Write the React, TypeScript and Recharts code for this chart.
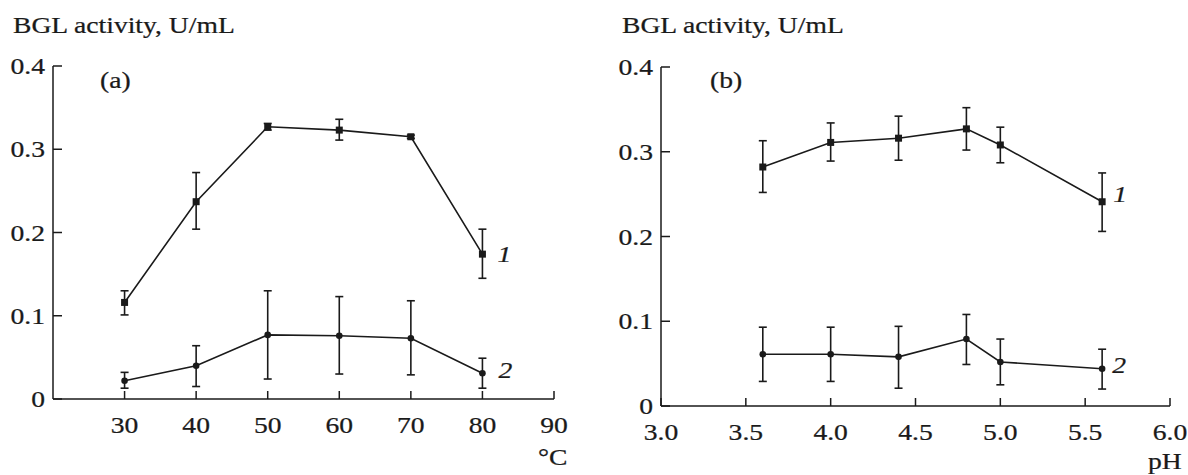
import React from 'react';
import { LineChart, Line, XAxis, YAxis, ErrorBar, LabelList } from 'recharts';

// temperature panel (a)
const tempC = [30, 40, 50, 60, 70, 80];
const tempAct1 = [0.116, 0.237, 0.327, 0.323, 0.315, 0.174];
const tempAct1Low = [0.101, 0.204, 0.323, 0.311, 0.313, 0.145];
const tempAct1High = [0.130, 0.272, 0.331, 0.336, 0.317, 0.204];
const tempAct2 = [0.022, 0.040, 0.077, 0.076, 0.073, 0.031];
const tempAct2Low = [0.013, 0.015, 0.024, 0.030, 0.029, 0.013];
const tempAct2High = [0.032, 0.064, 0.130, 0.123, 0.118, 0.049];

// pH panel (b)
const phVals = [3.6, 4.0, 4.4, 4.8, 5.0, 5.6];
const phAct1 = [0.282, 0.311, 0.316, 0.327, 0.308, 0.241];
const phAct1Low = [0.252, 0.289, 0.290, 0.302, 0.287, 0.206];
const phAct1High = [0.313, 0.334, 0.342, 0.352, 0.329, 0.275];
const phAct2 = [0.061, 0.061, 0.058, 0.079, 0.052, 0.044];
const phAct2Low = [0.029, 0.029, 0.021, 0.049, 0.025, 0.020];
const phAct2High = [0.093, 0.093, 0.094, 0.108, 0.079, 0.067];

const tempTicks = [30, 40, 50, 60, 70, 80, 90];
const phTicks = [3.0, 3.5, 4.0, 4.5, 5.0, 5.5, 6.0];
const actTicks = [0, 0.1, 0.2, 0.3, 0.4];
const curveTags = ['1', '2'];

const FONT = "'Liberation Serif', 'Times New Roman', serif";
const FS = 24;
const SX = 1.15; // the scan is a bit stretched horizontally
const INK = '#1a1a1a';

function buildRows(xs: number[], v1: number[], lo1: number[], hi1: number[], v2: number[], lo2: number[], hi2: number[]) {
  const last = xs.length - 1;
  return xs.map((x, i) => ({
    x,
    s1: v1[i],
    e1: [v1[i] - lo1[i], hi1[i] - v1[i]],
    s2: v2[i],
    e2: [v2[i] - lo2[i], hi2[i] - v2[i]],
    tag1: i === last ? curveTags[0] : undefined,
    tag2: i === last ? curveTags[1] : undefined,
  }));
}

const tempRows = buildRows(tempC, tempAct1, tempAct1Low, tempAct1High, tempAct2, tempAct2Low, tempAct2High);
const phRows = buildRows(phVals, phAct1, phAct1Low, phAct1High, phAct2, phAct2Low, phAct2High);

const SText = ({ x, y, anchor = 'start', italic = false, children }: any) => (
  <g transform={`translate(${x},${y})`}>
    <text
      transform={`scale(${SX},1)`}
      textAnchor={anchor}
      fontFamily={FONT}
      fontSize={FS}
      fontStyle={italic ? 'italic' : 'normal'}
      fill={INK}
      stroke={INK}
      strokeWidth={0.25}
    >
      {children}
    </text>
  </g>
);

const fmtY = (v: number) => (v === 0 ? '0' : v.toFixed(1));

const SquareDot = (p: any) => {
  if (p.cx == null || p.cy == null) return <g key={p.index} />;
  return <rect key={p.index} x={p.cx - 3.5} y={p.cy - 3.5} width={7} height={7} fill={INK} />;
};
const RoundDot = (p: any) => {
  if (p.cx == null || p.cy == null) return <g key={p.index} />;
  return <circle key={p.index} cx={p.cx} cy={p.cy} r={3.3} fill={INK} />;
};

const tagContent = (dx: number, dy: number) => (p: any) => {
  if (!p.value) return null;
  const vb = p.viewBox || {};
  const x = vb.x ?? p.x;
  const y = vb.y ?? p.y;
  return (
    <SText x={x + dx} y={y + dy} italic>
      {p.value}
    </SText>
  );
};

function Panel({ rows, left, width, margin, yAxisW, xAxisH, xDomain, xTicks, xFmt, tag1, tag2 }: any) {
  return (
    <div style={{ position: 'absolute', left, top: 0 }}>
      <LineChart width={width} height={475} data={rows} margin={margin}>
        <XAxis
          dataKey="x"
          type="number"
          domain={xDomain}
          ticks={xTicks}
          height={xAxisH}
          stroke={INK}
          strokeWidth={1.5}
          tickSize={-8}
          tickMargin={42}
          tick={(p: any) => (
            <SText x={p.x} y={p.y} anchor="middle">
              {xFmt(p.payload.value)}
            </SText>
          )}
        />
        <YAxis
          type="number"
          domain={[0, 0.4]}
          ticks={actTicks}
          width={yAxisW}
          stroke={INK}
          strokeWidth={1.5}
          tickSize={-9}
          tickMargin={17}
          tick={(p: any) => (
            <SText x={p.x} y={p.y + 8} anchor="end">
              {fmtY(p.payload.value)}
            </SText>
          )}
        />
        <Line
          dataKey="s1"
          stroke={INK}
          strokeWidth={1.6}
          dot={SquareDot}
          activeDot={false}
          isAnimationActive={false}
        >
          <ErrorBar dataKey="e1" width={4} stroke={INK} strokeWidth={1.6} direction="y" />
          <LabelList dataKey="tag1" content={tagContent(tag1[0], tag1[1])} />
        </Line>
        <Line
          dataKey="s2"
          stroke={INK}
          strokeWidth={1.6}
          dot={RoundDot}
          activeDot={false}
          isAnimationActive={false}
        >
          <ErrorBar dataKey="e2" width={4} stroke={INK} strokeWidth={1.6} direction="y" />
          <LabelList dataKey="tag2" content={tagContent(tag2[0], tag2[1])} />
        </Line>
      </LineChart>
    </div>
  );
}

export default function App() {
  return (
    <div style={{ position: 'absolute', left: 0, top: 0, width: 1188, height: 475, background: '#fff' }}>
      <Panel
        rows={tempRows}
        left={0}
        width={600}
        margin={{ top: 66, right: 46, left: 0, bottom: 0 }}
        yAxisW={53}
        xAxisH={76}
        xDomain={[20, 90]}
        xTicks={tempTicks}
        xFmt={(v: number) => String(v)}
        tag1={[15, 8]}
        tag2={[16, 5]}
      />
      <Panel
        rows={phRows}
        left={600}
        width={588}
        margin={{ top: 67, right: 18, left: 0, bottom: 0 }}
        yAxisW={61}
        xAxisH={69}
        xDomain={[3, 6]}
        xTicks={phTicks}
        xFmt={(v: number) => v.toFixed(1)}
        tag1={[11, 0]}
        tag2={[10, 4]}
      />
      <svg width={1188} height={475} style={{ position: 'absolute', left: 0, top: 0, pointerEvents: 'none' }}>
        <SText x={13} y={33}>BGL activity, U/mL</SText>
        <SText x={622} y={33}>BGL activity, U/mL</SText>
        <SText x={100} y={88}>(a)</SText>
        <SText x={710} y={88}>(b)</SText>
        <SText x={538} y={465}>°C</SText>
        <SText x={1148} y={469}>pH</SText>
      </svg>
    </div>
  );
}
